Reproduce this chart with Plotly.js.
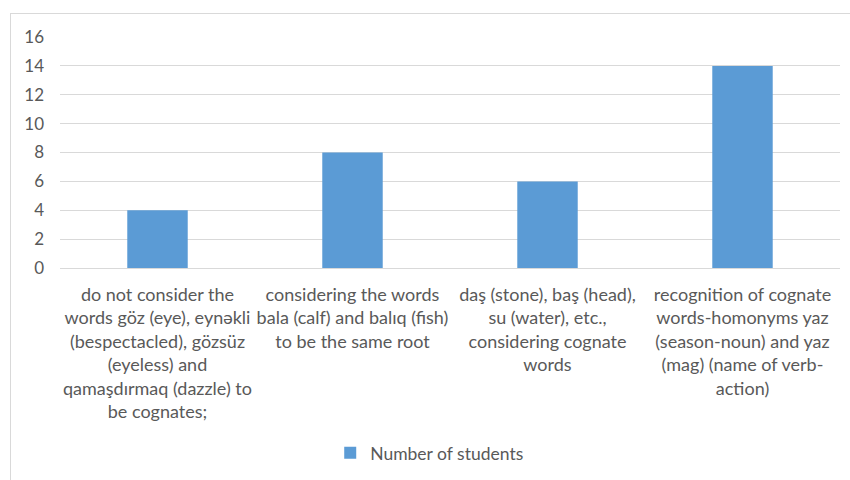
<!DOCTYPE html>
<html>
<head>
<meta charset="utf-8">
<script src="https://cdn.plot.ly/plotly-3.0.1.min.js"></script>
<style>
  html, body { margin: 0; padding: 0; background: #ffffff; }
  #wrap { position: relative; width: 850px; height: 480px; overflow: hidden; }
  #chart { position: absolute; left: 0; top: 0; width: 850px; height: 480px; }
  #frame { position: absolute; left: 10px; top: 13px; width: 860px; height: 490px; border: 1px solid #d9d9d9; pointer-events: none; }
</style>
</head>
<body>
<div id="wrap">
  <div id="chart"></div>
  <div id="frame"></div>
</div>
<script>
const categories = [
  "do not consider the<br>words göz (eye), eynəkli<br>(bespectacled), gözsüz<br>(eyeless) and<br>qamaşdırmaq (dazzle) to<br>be cognates;",
  "considering the words<br>bala (calf) and balıq (fish)<br>to be the same root",
  "daş (stone), baş (head),<br>su (water), etc.,<br>considering cognate<br>words",
  "recognition of cognate<br>words-homonyms yaz<br>(season-noun) and yaz<br>(mag) (name of verb-<br>action)"
];
const students = [4, 8, 6, 14];
const yTicks = [0, 2, 4, 6, 8, 10, 12, 14, 16];
const seriesName = "Number of students";

const fontFam = "Lato, 'Open Sans', sans-serif";

Plotly.newPlot("chart", [{
  type: "bar",
  x: categories,
  y: students,
  name: seriesName,
  marker: { color: "#5B9BD5" },
  showlegend: true,
  hoverinfo: "skip"
}], {
  width: 850,
  height: 480,
  margin: { l: 60, r: 10, t: 37, b: 207, pad: 0 },
  paper_bgcolor: "rgba(0,0,0,0)",
  plot_bgcolor: "rgba(0,0,0,0)",
  bargap: 0.69,
  font: { family: fontFam, size: 17, color: "#595959" },
  xaxis: {
    type: "category",
    automargin: false,
    tickangle: 0,
    showgrid: false,
    showline: false,
    zeroline: false,
    ticks: "",
    ticklabelstandoff: 14,
    tickfont: { family: fontFam, size: 18, color: "#595959" }
  },
  yaxis: {
    automargin: false,
    range: [0, 16],
    tickvals: yTicks,
    ticktext: yTicks.map(String),
    showgrid: true,
    gridcolor: "#d9d9d9",
    gridwidth: 1,
    zeroline: true,
    zerolinecolor: "#d9d9d9",
    zerolinewidth: 1,
    showline: false,
    ticks: "",
    ticklabelstandoff: 15,
    tickfont: { family: fontFam, size: 17, color: "#595959" }
  },
  legend: {
    orientation: "h",
    x: 0.474,
    xanchor: "center",
    y: -0.80,
    yanchor: "middle",
    font: { family: fontFam, size: 17.5, color: "#595959" },
    itemwidth: 30
  }
}, { displayModeBar: false, staticPlot: true });
</script>
</body>
</html>
